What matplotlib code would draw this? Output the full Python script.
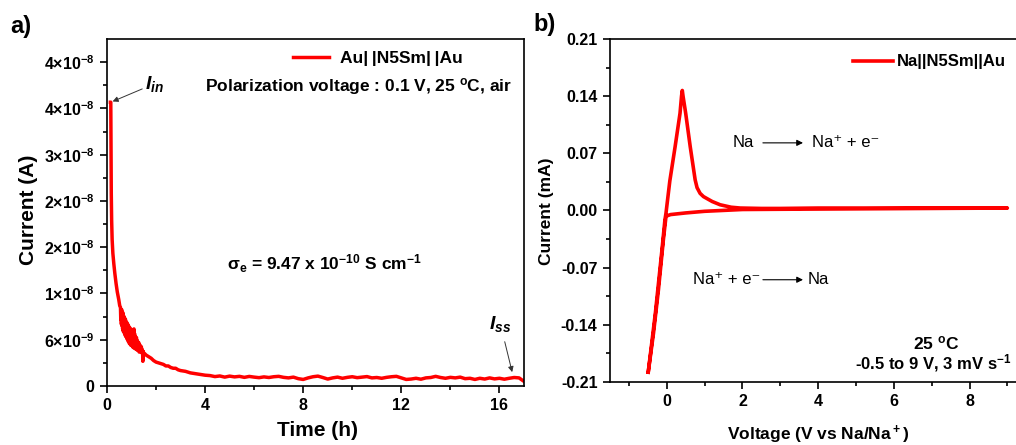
import matplotlib
matplotlib.use("Agg")
import matplotlib.pyplot as plt
import numpy as np

plt.rcParams['font.family'] = ['Liberation Sans', 'DejaVu Sans']

RED = '#ff0000'

# ---- panel a: polarization current vs time (current in nA) ----
time_h = [0.14, 0.155, 0.165, 0.175, 0.19, 0.21, 0.24, 0.28, 0.32, 0.37, 0.42, 0.48, 0.52,
          0.5500, 0.5625, 0.5750, 0.5875, 0.6000, 0.6125, 0.6250, 0.6375, 0.6500, 0.6625,
          0.6750, 0.6875, 0.7000, 0.7125, 0.7250, 0.7375, 0.7500, 0.7625, 0.7750, 0.7875,
          0.8000, 0.8125, 0.8250, 0.8375, 0.8500, 0.8625, 0.8750, 0.8875, 0.9000, 0.9125,
          0.9250, 0.9375, 0.9500, 0.9625, 0.9750, 0.9875, 1.0000, 1.0125, 1.0250, 1.0375,
          1.0500, 1.0625, 1.0750, 1.0875, 1.1000, 1.1125, 1.1250, 1.1375, 1.1500, 1.1625,
          1.1750, 1.1875, 1.2000, 1.2125, 1.2250, 1.2375, 1.2500, 1.2625, 1.2750, 1.2875,
          1.3000, 1.3125, 1.3250, 1.3375, 1.3500, 1.3625, 1.3750, 1.3875, 1.4000, 1.4125,
          1.4250, 1.4375, 1.4500, 1.4625, 1.4750, 1.4875, 1.5000,
          1.6, 1.7, 1.8, 1.9, 2.0, 2.1, 2.2, 2.3, 2.4, 2.5, 2.6, 2.7, 2.8, 2.9, 3.0,
          3.2, 3.4, 3.6, 3.8, 4.0,
          4.2, 4.4, 4.6, 4.8, 5.0, 5.2, 5.4, 5.6, 5.8, 6.0, 6.2, 6.4, 6.6, 6.8, 7.0,
          7.2, 7.4, 7.6, 7.8, 8.0, 8.2, 8.4, 8.6, 8.8, 9.0, 9.2, 9.4, 9.6, 9.8, 10.0,
          10.2, 10.4, 10.6, 10.8, 11.0, 11.2, 11.4, 11.6, 11.8, 12.0, 12.2, 12.4, 12.6,
          12.8, 13.0, 13.2, 13.4, 13.6, 13.8, 14.0, 14.2, 14.4, 14.6, 14.8, 15.0, 15.2,
          15.4, 15.6, 15.8, 16.0, 16.2, 16.4, 16.6, 16.8, 17.0]
current_nA = [36.8, 36.8, 30.0, 25.0, 21.5, 19.0, 17.2, 15.8, 14.6, 13.3, 12.2, 11.2, 10.4,
              10.2, 8.6, 9.6, 8.0, 9.9, 7.8, 9.1, 7.4, 9.5, 7.1,
              8.6, 7.3, 9.0, 6.8, 8.2, 6.6, 8.7, 6.4, 7.9, 6.7,
              8.3, 6.1, 7.6, 6.2, 8.0, 5.8, 7.3, 6.0, 7.7, 5.5,
              7.1, 5.7, 7.5, 5.3, 6.9, 5.6, 7.3, 5.2, 6.7, 5.4,
              7.1, 5.0, 6.5, 5.3, 7.4, 4.9, 6.8, 5.1, 6.4, 4.8,
              6.1, 4.9, 6.3, 4.7, 5.9, 4.8, 5.8, 4.6, 5.5, 4.7,
              5.6, 4.4, 5.2, 4.6, 5.3, 4.5, 5.0, 4.4, 5.1, 4.3,
              4.8, 4.3, 4.6, 3.2, 4.5, 4.1, 4.3,
              4.0, 3.8, 3.6, 3.3, 3.1, 3.0, 2.9, 2.8, 2.6, 2.6, 2.4, 2.3, 2.3, 2.1, 2.0,
              1.9, 1.7, 1.6, 1.5, 1.4,
              1.35, 1.22, 1.30, 1.15, 1.28, 1.18, 1.25, 1.12, 1.24, 1.15, 1.08, 1.18, 1.10, 1.20, 1.25,
              1.12, 1.05, 1.15, 0.95, 0.85, 1.05, 1.20, 1.28, 1.10, 0.90, 1.05, 1.15, 1.00, 1.12, 1.20,
              1.08, 1.15, 1.22, 1.05, 1.10, 1.00, 1.12, 1.20, 1.25, 1.05, 0.85, 0.90, 1.00,
              0.88, 1.05, 1.10, 1.25, 1.10, 1.00, 1.12, 1.05, 1.15, 0.95, 1.00, 0.85, 1.00,
              0.90, 1.05, 0.92, 1.00, 0.88, 1.00, 1.10, 1.05, 0.60]

a_yticks = [0, 6e-9, 1.2e-8, 1.8e-8, 2.4e-8, 3.0e-8, 3.6e-8, 4.2e-8]
a_yticklabels = ['0', r'6×10$\mathregular{^{-9}}$', r'1×10$\mathregular{^{-8}}$',
                 r'2×10$\mathregular{^{-8}}$', r'2×10$\mathregular{^{-8}}$',
                 r'3×10$\mathregular{^{-8}}$', r'4×10$\mathregular{^{-8}}$',
                 r'4×10$\mathregular{^{-8}}$']

# ---- panel b: cyclic voltammogram ----
fwd_V = [-0.49, -0.30, -0.12, -0.05, -0.02, 0.08, 0.22, 0.35, 0.39, 0.41, 0.43, 0.50, 0.62,
         0.75, 0.80, 0.88, 0.97, 1.2, 1.41, 1.7, 1.94, 2.5, 3.0, 4.0, 5.0, 6.0, 7.0, 8.0, 9.0]
fwd_I = [-0.198, -0.125, -0.045, -0.012, -0.003, 0.036, 0.078, 0.119, 0.140, 0.147, 0.140,
         0.119, 0.078, 0.0375, 0.028, 0.021, 0.017, 0.011, 0.007, 0.004, 0.003, 0.0025,
         0.0025, 0.003, 0.003, 0.003, 0.003, 0.003, 0.003]
rev_V = [9.0, 7.0, 5.0, 3.0, 2.0, 1.0, 0.5, 0.1, -0.02, -0.09, -0.22, -0.35, -0.49]
rev_I = [0.003, 0.0025, 0.002, 0.0015, 0.0012, -0.001, -0.003, -0.005, -0.007, -0.036,
         -0.097, -0.15, -0.198]

fig = plt.figure(figsize=(10.16, 4.45), dpi=100)
axa = fig.add_axes([0.1053, 0.1326, 0.4104, 0.7798])
axb = fig.add_axes([0.6004, 0.1416, 0.406, 0.7708])

# panel a
axa.plot(time_h, np.array(current_nA) * 1e-9, color=RED, lw=2.5,
         label='Au|\u2009|N5Sm|\u2009|Au')
axa.set_xlim(0, 17)
axa.set_ylim(0, 4.5e-8)
axa.set_xticks([0, 4, 8, 12, 16])
axa.set_xticks([2, 6, 10, 14], minor=True)
axa.set_yticks(a_yticks)
axa.set_yticklabels(a_yticklabels)
axa.set_yticks([3e-9, 9e-9, 1.5e-8, 2.1e-8, 2.7e-8, 3.3e-8, 3.9e-8], minor=True)
axa.set_xlabel('Time (h)', fontsize=15, fontweight='bold')
axa.set_ylabel('Current (A)', fontsize=15, fontweight='bold')
axa.xaxis.set_label_coords(0.504, -0.10)
axa.yaxis.set_label_coords(-0.165, 0.507)
axa.legend(loc='center left', bbox_to_anchor=(0.446, 0.945), frameon=False,
           borderpad=0, borderaxespad=0, handlelength=2.1, handletextpad=0.6,
           prop={'weight': 'bold', 'size': 12.5})
axa.text(3.99, 3.88e-8, r'Polarization voltage : 0.1 V, 25 $\mathregular{^o}$C, air',
         fontsize=12.5, fontweight='bold', va='center')
axa.text(4.88, 1.59e-8, r'σ$\mathregular{_e}$ = 9.47 x 10$\mathregular{^{-10}}$ S cm$\mathregular{^{-1}}$',
         fontsize=12.5, fontweight='bold', va='center')
axa.annotate(r'$\mathregular{I_{in}}$', xy=(0.23, 3.69e-8), xytext=(1.55, 3.92e-8),
             fontsize=14, fontweight='bold', style='italic', va='center',
             arrowprops=dict(arrowstyle='-|>', color='#333333', lw=0.7,
                             shrinkA=0, shrinkB=0, mutation_scale=8))
axa.annotate(r'$\mathregular{I_{ss}}$', xy=(16.52, 1.8e-9), xytext=(15.58, 8.1e-9),
             fontsize=14, fontweight='bold', style='italic', va='center',
             arrowprops=dict(arrowstyle='-|>', color='#333333', lw=0.7,
                             shrinkA=4, shrinkB=0, mutation_scale=8))

# panel b
axb.plot(fwd_V + rev_V, fwd_I + rev_I, color=RED, lw=2.6, label='Na||N5Sm||Au',
         solid_joinstyle='round')
axb.set_xlim(-1.5, 9.4)
axb.set_ylim(-0.21, 0.21)
axb.set_xticks([0, 2, 4, 6, 8])
axb.set_xticks([-1, 1, 3, 5, 7, 9], minor=True)
axb.set_yticks([-0.21, -0.14, -0.07, 0.0, 0.07, 0.14, 0.21])
axb.set_yticklabels(['-0.21', '-0.14', '-0.07', '0.00', '0.07', '0.14', '0.21'])
axb.set_yticks([-0.175, -0.105, -0.035, 0.035, 0.105, 0.175], minor=True)
axb.set_xlabel(r'Voltage (V vs Na/Na$\mathregular{^+}$)', fontsize=12.5, fontweight='bold')
axb.set_ylabel('Current (mA)', fontsize=12.5, fontweight='bold')
axb.xaxis.set_label_coords(0.504, -0.122)
axb.yaxis.set_label_coords(-0.136, 0.499)
axb.legend(loc='center left', bbox_to_anchor=(0.589, 0.933), frameon=False,
           borderpad=0, borderaxespad=0, handlelength=2.4, handletextpad=0.25,
           prop={'weight': 'bold', 'size': 12})

axb.text(1.75, 0.0828, 'Na', fontsize=12, va='center')
axb.annotate('', xy=(3.60, 0.0828), xytext=(2.54, 0.0828),
             arrowprops=dict(arrowstyle='-|>', color='black', lw=0.8,
                             shrinkA=0, shrinkB=0, mutation_scale=9))
axb.text(3.84, 0.0828, 'Na\u207a + e\u207b', fontsize=12, va='center')
axb.text(0.69, -0.0848, 'Na\u207a + e\u207b', fontsize=12, va='center')
axb.annotate('', xy=(3.60, -0.0848), xytext=(2.54, -0.0848),
             arrowprops=dict(arrowstyle='-|>', color='black', lw=0.8,
                             shrinkA=0, shrinkB=0, mutation_scale=9))
axb.text(3.73, -0.0848, 'Na', fontsize=12, va='center')
axb.text(7.13, -0.163, r'25 $\mathregular{^o}$C', fontsize=12.5, fontweight='bold',
         ha='center', va='center')
axb.text(9.12, -0.187, r'-0.5 to 9 V, 3 mV s$\mathregular{^{-1}}$', fontsize=12,
         fontweight='bold', ha='right', va='center')

for ax in (axa, axb):
    for sp in ax.spines.values():
        sp.set_linewidth(1.2)
    ax.tick_params(which='both', direction='out', width=1.2, top=False, right=False)
    ax.tick_params(which='major', length=5, labelsize=11.5, pad=4)
    ax.tick_params(which='minor', length=3)
    for lab in ax.get_xticklabels() + ax.get_yticklabels():
        lab.set_fontweight('bold')

fig.text(0.010, 0.94, 'a)', fontsize=17, fontweight='bold', va='center')
fig.text(0.525, 0.945, 'b)', fontsize=17, fontweight='bold', va='center')

fig.savefig('out.png', dpi=100)
